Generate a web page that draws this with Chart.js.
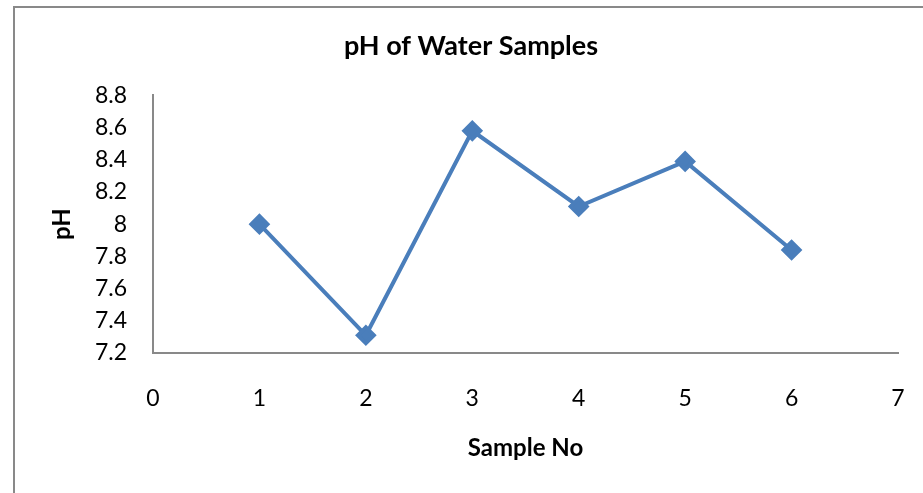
<!DOCTYPE html>
<html>
<head>
<meta charset="utf-8">
<script src="https://cdn.jsdelivr.net/npm/chart.js@4/dist/chart.umd.min.js"></script>
<style>
  html, body { margin: 0; padding: 0; background: #fff; }
  #wrap { width: 923px; height: 493px; position: relative; }
</style>
</head>
<body>
<div id="wrap"><canvas id="c" width="923" height="493"></canvas></div>
<script>
const sampleNo = [1, 2, 3, 4, 5, 6];
const phValues = [8.0, 7.31, 8.58, 8.11, 8.39, 7.84];
const chartTitle = "pH of Water Samples";
const xTitle = "Sample No";
const yTitle = "pH";

const FONT = "Lato, 'Open Sans', sans-serif";

const framePlugin = {
  id: 'frame',
  beforeDraw(chart) {
    const ctx = chart.ctx;
    ctx.save();
    ctx.fillStyle = '#fff';
    ctx.fillRect(0, 0, chart.width, chart.height);
    ctx.strokeStyle = '#898989';
    ctx.lineWidth = 2;
    ctx.strokeRect(14, 7, chart.width + 20, chart.height + 20);
    ctx.restore();
  }
};

new Chart(document.getElementById('c'), {
  type: 'line',
  data: {
    datasets: [{
      data: sampleNo.map((x, i) => ({ x: x, y: phValues[i] })),
      borderColor: '#4A7EBB',
      backgroundColor: '#4A7EBB',
      borderWidth: 4,
      pointStyle: 'rectRot',
      pointRadius: 8,
      pointHoverRadius: 8,
      tension: 0
    }]
  },
  options: {
    responsive: false,
    animation: false,
    layout: { padding: { left: 44, right: 25, top: 0, bottom: 0 } },
    plugins: {
      legend: { display: false },
      tooltip: { enabled: false },
      title: {
        display: true,
        text: chartTitle,
        color: '#000',
        font: { family: FONT, size: 27, weight: 'bold' },
        padding: { top: 30, bottom: 33 }
      }
    },
    scales: {
      x: {
        type: 'linear',
        min: 0, max: 7,
        grid: { display: false },
        border: { display: true, color: '#898989', width: 2 },
        ticks: { stepSize: 1, color: '#000', font: { family: FONT, size: 23 }, padding: 24 },
        title: { display: true, text: xTitle, color: '#000', font: { family: FONT, size: 24, weight: 'bold' }, padding: { top: 0, bottom: 30 } },
        afterFit(s) { s.height = 140; s.paddingRight = 0; s.paddingLeft = 0; }
      },
      y: {
        type: 'linear',
        min: 7.2, max: 8.8,
        grid: { display: false },
        border: { display: true, color: '#898989', width: 2 },
        ticks: {
          stepSize: 0.2, color: '#000', font: { family: FONT, size: 23 }, padding: 18,
          callback: (v) => { const r = Math.round(v * 10) / 10; return Number.isInteger(r) ? String(r) : r.toFixed(1); }
        },
        title: { display: true, text: yTitle, color: '#000', font: { family: FONT, size: 24, weight: 'bold' }, padding: { top: 4, bottom: 0 } },
        afterFit(s) { s.width = 109; }
      }
    }
  },
  plugins: [framePlugin]
});
</script>
</body>
</html>
